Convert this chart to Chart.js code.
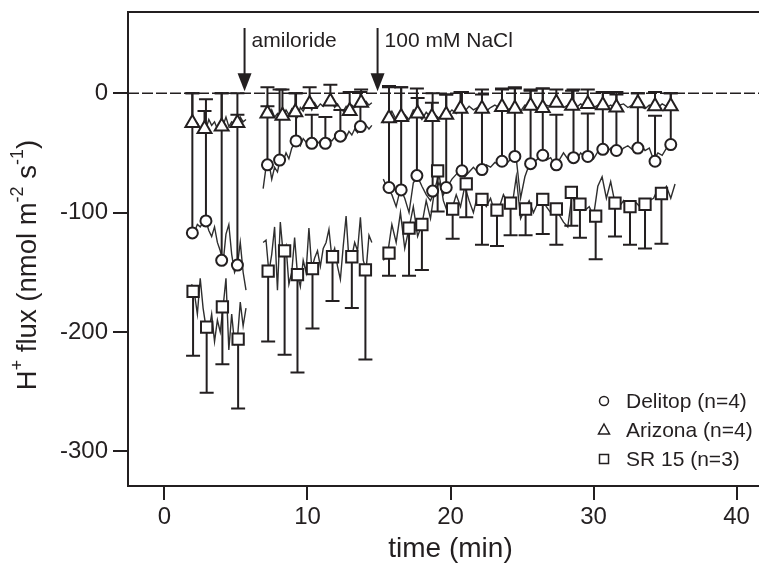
<!DOCTYPE html>
<html><head><meta charset="utf-8">
<script src="https://cdn.jsdelivr.net/npm/chart.js@4.4.1/dist/chart.umd.min.js"></script>
<style>html,body{margin:0;padding:0;background:#fff}#wrap{width:759px;height:564px;position:relative}</style>
</head><body><div id="wrap"><canvas id="c" width="759" height="564"></canvas></div>
<script>
// ---------------- DATA ----------------
const seriesNames = ['Delitop (n=4)', 'Arizona (n=4)', 'SR 15 (n=3)'];
const xTicks = [0, 10, 20, 30, 40];
const xTickLabels = ['0', '10', '20', '30', '40'];
const yTicks = [-300, -200, -100, 0];
const yTickLabels = ['-300', '-200', '-100', '0'];
const xTitle = 'time (min)';
const yTitleParts = [['H', 0], ['+', 1], [' flux (nmol m', 0], ['-2', 1], [' s', 0], ['-1', 1], [')', 0]];
const eventTimes = [5.6, 14.9];
const eventLabels = ['amiloride', '100 mM NaCl'];

// means (markers) and error (SEM) – Delitop & Arizona shown upward, SR 15 downward
const delitopTime = [1.95, 2.9, 4.0, 5.1, 7.2, 8.05, 9.2, 10.3, 11.25, 12.3, 13.7, 15.7, 16.55, 17.65, 18.75, 19.7, 20.8, 22.2, 23.6, 24.5, 25.6, 26.45, 27.4, 28.6, 29.6, 30.65, 31.6, 33.1, 34.3, 35.4];
const delitopMean = [-117, -107, -140, -144, -60, -56, -40, -42, -42, -36, -28, -79, -81, -69, -82, -79, -65, -64, -57, -53, -59, -52, -60, -54, -53, -47, -48, -46, -57, -43];
const delitopSem  = [117, 102, 140, 144, 65, 59, 40, 24, 22, 22, 29, 84, 86, 73, 82, 78, 66, 63, 60, 57, 61, 56, 42, 57, 36, 48, 47, 46, 38, 43];

const arizonaTime = [1.95, 2.8, 4.0, 5.1, 7.2, 8.25, 9.15, 10.15, 11.6, 12.95, 13.75, 15.7, 16.55, 17.7, 18.7, 19.7, 20.7, 22.2, 23.6, 24.5, 25.6, 26.45, 27.4, 28.5, 29.6, 30.65, 31.6, 33.1, 34.3, 35.4];
const arizonaMean = [-25, -30, -28, -25, -17, -19, -16, -9, -7, -15, -8, -21, -20, -17, -20, -18, -13, -13, -11.5, -13, -10.5, -12.5, -8, -10.5, -9, -10, -12, -8.5, -11, -11];
const arizonaSem  = [25, 15, 28, 7, 6, 22, 16, 14, 14, 16, 11, 27, 25, 13, 12, 17, 14, 16, 15.5, 18, 13.5, 16.5, 11, 12.5, 12, 11, 13, 8.5, 12, 11];

const sr15Time = [2.0, 2.95, 4.05, 5.15, 7.25, 8.4, 9.3, 10.35, 11.75, 13.1, 14.05, 15.7, 17.1, 18.0, 19.1, 20.15, 21.1, 22.2, 23.25, 24.2, 25.25, 26.45, 27.4, 28.45, 29.05, 30.15, 31.5, 32.55, 33.6, 34.75];
const sr15Mean = [-166, -196, -179, -206, -149, -132, -152, -147, -137, -137, -148, -134, -113, -110, -65, -97, -76, -89, -98, -92, -97, -89, -97, -83, -93, -103, -92, -95, -93, -84];
const sr15Sem  = [54, 55, 48, 58, 59, 87, 82, 50, 37, 43, 75, 19, 40, 38, 34, 25, 28, 38, 30, 27, 22, 29, 30, 28, 28, 36, 28, 32, 37, 42];

// raw traces, three recording segments
const traceTime1 = [1.9, 2.1, 2.3, 2.5, 2.7, 2.9, 3.1, 3.3, 3.5, 3.7, 3.9, 4.1, 4.3, 4.5, 4.7, 4.9, 5.1, 5.3, 5.5, 5.7];
const traceTime2 = [6.9, 7.1, 7.3, 7.5, 7.7, 7.9, 8.1, 8.3, 8.5, 8.7, 8.9, 9.1, 9.3, 9.5, 9.7, 9.9, 10.1, 10.3, 10.5, 10.7, 10.9, 11.1, 11.3, 11.5, 11.7, 11.9, 12.1, 12.3, 12.5, 12.7, 12.9, 13.1, 13.3, 13.5, 13.7, 13.9, 14.1, 14.3, 14.5];
const traceTime3 = [15.3, 15.6, 15.9, 16.2, 16.5, 16.8, 17.1, 17.4, 17.7, 18.0, 18.3, 18.6, 18.9, 19.2, 19.5, 19.8, 20.1, 20.4, 20.7, 21.0, 21.3, 21.6, 21.9, 22.2, 22.5, 22.8, 23.1, 23.4, 23.7, 24.0, 24.3, 24.6, 24.9, 25.2, 25.5, 25.8, 26.1, 26.4, 26.7, 27.0, 27.3, 27.6, 27.9, 28.2, 28.5, 28.8, 29.1, 29.4, 29.7, 30.0, 30.3, 30.6, 30.9, 31.2, 31.5, 31.8, 32.1, 32.4, 32.7, 33.0, 33.3, 33.6, 33.9, 34.2, 34.5, 34.8, 35.1, 35.4, 35.7];

const delitopTrace1 = [-118, -116, -110, -112, -108, -107, -115, -120, -112, -125, -132, -142, -118, -110, -135, -150, -144, -125, -150, -165];
const delitopTrace2 = [-80, -62, -58, -72, -62, -66, -55, -57, -50, -55, -46, -42, -40, -44, -38, -41, -43, -42, -38, -42, -40, -43, -42, -38, -40, -37, -35, -36, -34, -37, -32, -35, -30, -33, -28, -31, -27, -30, -27];
const delitopTrace3 = [-72, -80, -85, -95, -80, -88, -100, -75, -70, -78, -85, -90, -82, -75, -85, -78, -72, -68, -64, -70, -66, -62, -66, -64, -60, -62, -58, -60, -56, -58, -54, -55, -88, -70, -60, -58, -55, -52, -56, -54, -60, -56, -50, -55, -52, -56, -50, -54, -52, -55, -49, -47, -50, -46, -48, -50, -46, -44, -47, -45, -43, -48, -46, -56, -50, -52, -46, -43, -44];

const arizonaTrace1 = [-24, -27, -25, -30, -28, -30, -22, -27, -24, -30, -28, -27, -20, -28, -24, -26, -25, -20, -24, -22];
const arizonaTrace2 = [-18, -16, -20, -14, -20, -17, -22, -19, -14, -18, -13, -16, -20, -12, -15, -10, -9, -14, -8, -12, -9, -11, -7, -10, -7, -12, -9, -13, -15, -11, -15, -10, -12, -9, -8, -11, -7, -10, -8];
const arizonaTrace3 = [-25, -21, -15, -22, -20, -18, -22, -14, -17, -22, -16, -20, -18, -21, -16, -18, -14, -17, -13, -15, -11, -14, -12, -13, -15, -12, -10, -12, -11, -14, -12, -13, -15, -10, -11, -9, -13, -12, -10, -11, -7, -9, -12, -10, -10, -12, -9, -11, -9, -12, -10, -10, -12, -10, -12, -10, -9, -12, -10, -9, -11, -13, -10, -11, -12, -9, -11, -11, -10];

const sr15Trace1 = [-160, -168, -185, -155, -180, -196, -200, -185, -208, -190, -200, -179, -155, -215, -185, -210, -206, -175, -195, -180];
const sr15Trace2 = [-125, -123, -150, -135, -112, -165, -108, -135, -128, -160, -150, -121, -152, -162, -140, -150, -113, -147, -138, -132, -145, -130, -125, -114, -137, -130, -145, -156, -128, -103, -140, -137, -125, -132, -104, -140, -148, -119, -125];
const sr15Trace3 = [-140, -135, -110, -125, -100, -130, -113, -95, -120, -110, -90, -105, -80, -68, -90, -100, -97, -85, -95, -78, -90, -100, -85, -89, -95, -88, -100, -96, -85, -92, -95, -70, -105, -97, -90, -100, -92, -88, -95, -100, -97, -102, -108, -112, -85, -95, -93, -98, -95, -103, -78, -70, -88, -74, -92, -95, -90, -98, -95, -92, -96, -93, -90, -88, -80, -84, -78, -88, -76];

// ---------------- STYLE / CHART ----------------
const FONT = "'Liberation Sans', Arial, Helvetica, sans-serif";
const INK = '#231f20';
Chart.defaults.font.family = FONT;

const series = [
  {style: 'circle', r: 5.5, t: delitopTime, m: delitopMean, e: delitopSem, dir: 1,
   traces: [[traceTime1, delitopTrace1], [traceTime2, delitopTrace2], [traceTime3, delitopTrace3]]},
  {style: 'triangle', r: 8, t: arizonaTime, m: arizonaMean, e: arizonaSem, dir: 1,
   traces: [[traceTime1, arizonaTrace1], [traceTime2, arizonaTrace2], [traceTime3, arizonaTrace3]]},
  {style: 'rect', r: 8, t: sr15Time, m: sr15Mean, e: sr15Sem, dir: -1,
   traces: [[traceTime1, sr15Trace1], [traceTime2, sr15Trace2], [traceTime3, sr15Trace3]]}
];

const datasets = [];
series.forEach((s, si) => {
  s.traces.forEach(([tt, vv]) => {
    datasets.push({
      data: tt.map((t, i) => ({x: t, y: vv[i]})),
      borderColor: '#2e2e2e', borderWidth: 1.4, pointRadius: 0, pointHoverRadius: 0,
      fill: false, tension: 0, order: 10 + si
    });
  });
});
series.forEach((s, si) => {
  datasets.push({
    isMarker: true, errs: s.e, errDir: s.dir,
    data: s.t.map((t, i) => ({x: t, y: s.m[i]})),
    showLine: false, pointStyle: s.style, pointRadius: s.r, pointHoverRadius: s.r,
    pointBackgroundColor: '#ffffff', pointBorderColor: INK, pointBorderWidth: 2,
    order: 3 - si
  });
});

const decor = {
  id: 'decor',
  beforeDatasetsDraw(chart) {
    chart._ebDone = false;
    const {ctx, chartArea: a, scales: {y}} = chart;
    ctx.save();
    ctx.strokeStyle = INK;
    ctx.lineWidth = 2;
    ctx.beginPath(); ctx.moveTo(a.left - 1, a.top); ctx.lineTo(chart.width, a.top); ctx.stroke();
    const y0 = y.getPixelForValue(0);
    ctx.lineWidth = 1.5;
    ctx.setLineDash([11, 3]);
    ctx.beginPath(); ctx.moveTo(a.left, y0); ctx.lineTo(chart.width, y0); ctx.stroke();
    ctx.restore();
  },
  beforeDatasetDraw(chart, args) {
    const ds = chart.data.datasets[args.index];
    if (!ds.isMarker || chart._ebDone) return;
    chart._ebDone = true;
    const {ctx, chartArea: a, scales: {x, y}} = chart;
    ctx.save();
    ctx.beginPath(); ctx.rect(a.left, a.top, a.right - a.left, a.bottom - a.top); ctx.clip();
    ctx.strokeStyle = INK; ctx.lineWidth = 2;
    chart.data.datasets.forEach(d => {
      if (!d.isMarker) return;
      d.data.forEach((p, i) => {
        const px = x.getPixelForValue(p.x);
        const py = y.getPixelForValue(p.y);
        const pe = y.getPixelForValue(p.y + d.errDir * d.errs[i]);
        ctx.beginPath();
        ctx.moveTo(px, py); ctx.lineTo(px, pe);
        ctx.moveTo(px - 7, pe); ctx.lineTo(px + 7, pe);
        ctx.stroke();
      });
    });
    ctx.restore();
  },
  afterDatasetsDraw(chart) {
    const {ctx, chartArea: a, scales: {x, y}} = chart;
    ctx.save();
    // event arrows
    const y0 = y.getPixelForValue(0);
    eventTimes.forEach((t, i) => {
      const px = x.getPixelForValue(t);
      const top = a.top + 16, tip = y0 - 2;
      ctx.strokeStyle = INK; ctx.fillStyle = INK; ctx.lineWidth = 2;
      ctx.beginPath(); ctx.moveTo(px, top); ctx.lineTo(px, tip - 14); ctx.stroke();
      ctx.beginPath(); ctx.moveTo(px - 7, tip - 18); ctx.lineTo(px + 7, tip - 18); ctx.lineTo(px, tip); ctx.closePath(); ctx.fill();
      ctx.font = '21px ' + FONT; ctx.textAlign = 'left'; ctx.textBaseline = 'alphabetic';
      ctx.fillText(eventLabels[i], px + 7, a.top + 35);
    });
    // legend
    const lx = 604, ly = [401, 430, 459];
    ctx.lineWidth = 1.5; ctx.strokeStyle = INK; ctx.fillStyle = INK;
    series.forEach((s, i) => {
      const cy = ly[i];
      ctx.beginPath();
      if (s.style === 'circle') ctx.arc(lx, cy, 4.5, 0, Math.PI * 2);
      else if (s.style === 'triangle') { ctx.moveTo(lx, cy - 6); ctx.lineTo(lx + 5.5, cy + 4); ctx.lineTo(lx - 5.5, cy + 4); ctx.closePath(); }
      else ctx.rect(lx - 4.5, cy - 4.5, 9, 9);
      ctx.stroke();
      ctx.font = '21px ' + FONT; ctx.textAlign = 'left'; ctx.textBaseline = 'middle';
      ctx.fillText(seriesNames[i], 626, cy + 1);
    });
    // x title
    ctx.font = '28px ' + FONT; ctx.textAlign = 'center'; ctx.textBaseline = 'middle';
    ctx.fillText(xTitle, x.getPixelForValue(20), 549);
    // y title with superscripts
    ctx.translate(28, 265); ctx.rotate(-Math.PI / 2);
    const mainF = '27.5px ' + FONT, supF = '18px ' + FONT;
    let total = 0;
    yTitleParts.forEach(p => { ctx.font = p[1] ? supF : mainF; total += ctx.measureText(p[0]).width; });
    let cx = -total / 2;
    ctx.textAlign = 'left'; ctx.textBaseline = 'middle';
    yTitleParts.forEach(p => {
      ctx.font = p[1] ? supF : mainF;
      ctx.fillText(p[0], cx, p[1] ? -10 : 0);
      cx += ctx.measureText(p[0]).width;
    });
    ctx.restore();
  }
};

new Chart(document.getElementById('c'), {
  type: 'line',
  data: {datasets},
  plugins: [decor],
  options: {
    responsive: false, animation: false, devicePixelRatio: 1,
    layout: {autoPadding: false, padding: {left: 0, right: 1, top: 12, bottom: 0}},
    plugins: {legend: {display: false}, tooltip: {enabled: false}},
    scales: {
      x: {
        type: 'linear', min: -2.55, max: 41.5,
        afterBuildTicks: s => { s.ticks = xTicks.map(v => ({value: v})); },
        afterFit: s => { s.height = 78; s.paddingLeft = 0; s.paddingRight = 0; },
        grid: {drawOnChartArea: false, drawTicks: true, tickLength: 14, color: INK, lineWidth: 2},
        border: {display: true, color: INK, width: 2},
        ticks: {color: INK, font: {size: 24}, padding: 3, maxRotation: 0, autoSkip: false,
                callback: (v, i) => xTickLabels[i]}
      },
      y: {
        type: 'linear', min: -329, max: 68,
        afterBuildTicks: s => { s.ticks = yTicks.map(v => ({value: v})); },
        afterFit: s => { s.width = 128; s.paddingTop = 0; s.paddingBottom = 0; },
        grid: {drawOnChartArea: false, drawTicks: true, tickLength: 15, color: INK, lineWidth: 2},
        border: {display: true, color: INK, width: 2},
        ticks: {color: INK, font: {size: 24}, padding: 5, autoSkip: false,
                callback: (v, i) => yTickLabels[i]}
      }
    }
  }
});
</script></body></html>
